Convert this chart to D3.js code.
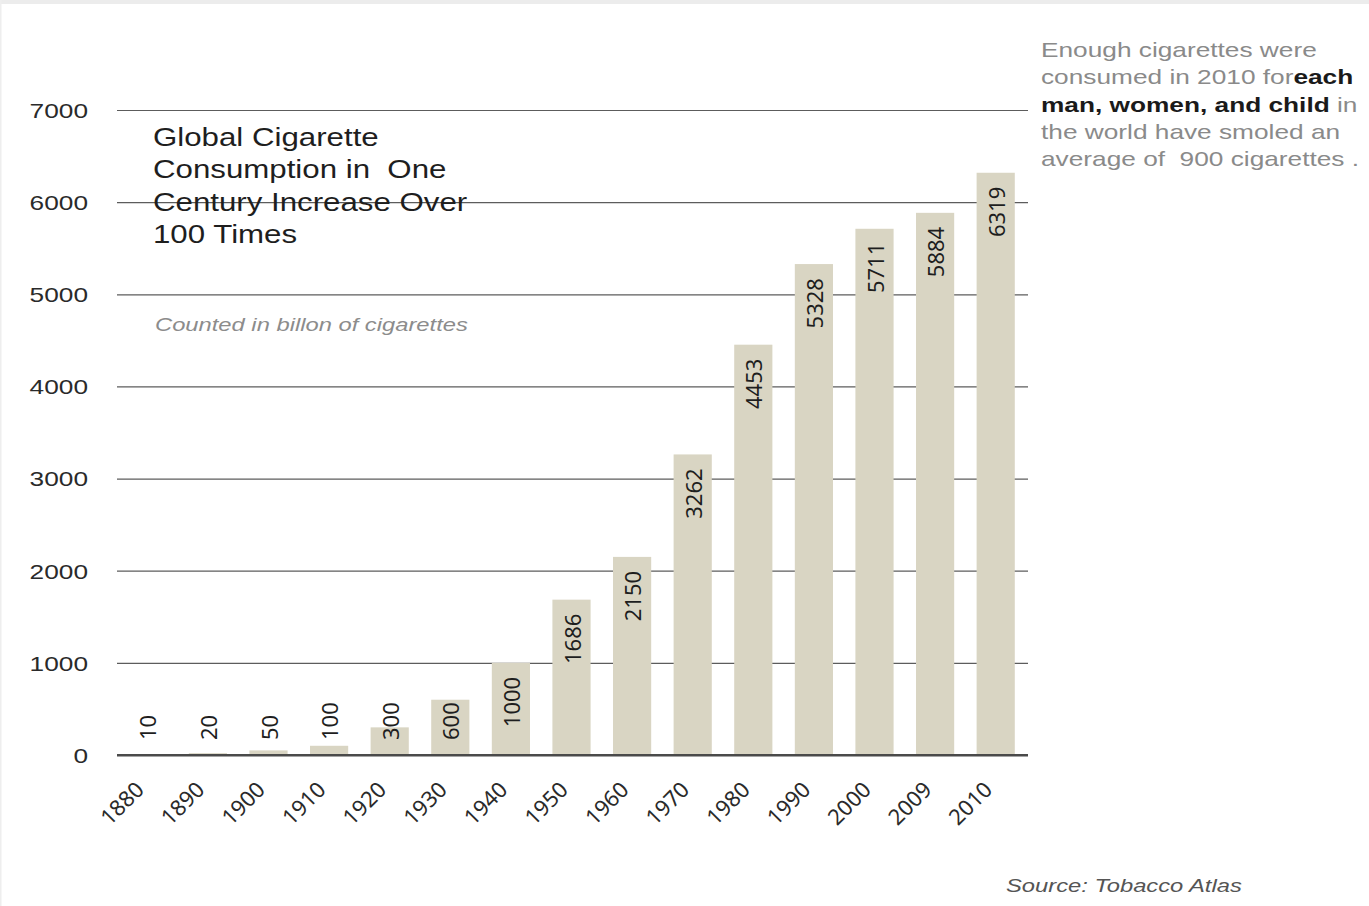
<!DOCTYPE html>
<html>
<head>
<meta charset="utf-8">
<script src="https://cdn.jsdelivr.net/npm/d3@7"></script>
<style>
  body { margin: 0; background: #fff; }
  svg { display: block; font-family: "Liberation Sans", Arial, sans-serif; }
  text { white-space: pre; }
</style>
</head>
<body>
<div id="chart"></div>
<script>
// data (billions of cigarettes)
const years = ["1880", "1890", "1900", "1910", "1920", "1930", "1940", "1950",
               "1960", "1970", "1980", "1990", "2000", "2009", "2010"];
const values = [10, 20, 50, 100, 300, 600, 1000, 1686, 2150, 3262, 4453, 5328, 5711, 5884, 6319];
const yTicks = [0, 1000, 2000, 3000, 4000, 5000, 6000, 7000];

const titleLines = ["Global Cigarette", "Consumption in  One", "Century Increase Over", "100 Times"];
const subtitle = "Counted in billon of cigarettes";
const source = "Source: Tobacco Atlas";

let width = 1369,
    height = 906,
    margin = ({ top: 110, right: 346, bottom: 151, left: 117 });

const stretch = 1.25; // reference text looks widened

const svg = d3.select("#chart")
  .append("svg")
  .attr("width", width)
  .attr("height", height);

// faint frame at top / left
svg.append("rect").attr("x", 0).attr("y", 0).attr("width", width).attr("height", 4).attr("fill", "#ececec");
svg.append("rect").attr("x", 0).attr("y", 0).attr("width", 1.5).attr("height", height).attr("fill", "#eeeeee");

let x = d3.scaleBand()
  .domain(years)
  .range([margin.left, width - margin.right + 3])
  .paddingInner(0.37)
  .paddingOuter(0.185);

let y = d3.scaleLinear()
  .domain([0, 7000])
  .range([height - margin.bottom, margin.top]);

// gridlines + y labels
const yAxis = svg.append("g")
  .attr("transform", `translate(${margin.left},0)`)
  .call(d3.axisLeft(y).tickValues(yTicks).tickFormat(d3.format("d"))
    .tickSize(-(width - margin.right + 5 - margin.left)).tickPadding(0));

yAxis.select(".domain").remove();
yAxis.selectAll(".tick line")
  .attr("stroke", d => d === 0 ? "#4a4a4a" : "#5c5c5c")
  .attr("stroke-width", d => d === 0 ? 2 : 1.2);
yAxis.selectAll(".tick text")
  .attr("x", -29 / stretch)
  .attr("dy", "0.35em")
  .attr("transform", `scale(${stretch},1)`)
  .attr("fill", "#2a2a2a")
  .attr("font-size", 21)
  .attr("font-family", "'Liberation Sans', Arial, sans-serif");

// title
const title = svg.append("g")
  .attr("transform", `translate(153,146) scale(${stretch},1)`);
title.selectAll("text")
  .data(titleLines)
  .join("text")
  .attr("x", 0)
  .attr("y", (d, i) => i * 32.5)
  .attr("font-size", 25)
  .attr("fill", "#1e1e1e")
  .text(d => d);

svg.append("text")
  .attr("transform", `translate(155,331) scale(${stretch},1)`)
  .attr("font-size", 19)
  .attr("font-style", "italic")
  .attr("fill", "#8c8c8c")
  .text(subtitle);

// bars
svg.append("g")
  .attr("fill", "#d9d5c3")
  .selectAll("rect")
  .data(values)
  .join("rect")
  .attr("x", (d, i) => x(years[i]))
  .attr("y", d => y(d))
  .attr("width", x.bandwidth())
  .attr("height", d => y(0) - y(d));

// re-draw the baseline over the bars
svg.append("line")
  .attr("x1", margin.left).attr("x2", width - margin.right + 5)
  .attr("y1", y(0)).attr("y2", y(0))
  .attr("stroke", "#4a4a4a").attr("stroke-width", 2);

// value labels, rotated, near the top of each bar
const labels = svg.append("g")
  .selectAll("text")
  .data(values)
  .join("text")
  .attr("font-family", "'Noto Sans', sans-serif")
  .attr("font-size", 22)
  .attr("fill", "#1e1e1e")
  .attr("text-anchor", "start")
  .text(d => d);

labels.each(function(d, i) {
  let len = this.getComputedTextLength();
  let startY = Math.min(y(0) - 15, y(d) + 14 + len);
  let cx = x(years[i]) + x.bandwidth() / 2;
  d3.select(this).attr("transform", `translate(${cx + 9},${startY}) rotate(-90)`);
});

// x labels
svg.append("g")
  .selectAll("text")
  .data(years)
  .join("text")
  .attr("font-family", "'Noto Sans', sans-serif")
  .attr("font-size", 22)
  .attr("fill", "#2a2a2a")
  .attr("text-anchor", "end")
  .attr("transform", d => `translate(${x(d) + x.bandwidth() / 2 - 2},${y(0) + 36}) rotate(-45)`)
  .text(d => d);

// right-side note
const note = svg.append("g")
  .attr("transform", `translate(1041,57) scale(${stretch},1)`)
  .attr("font-size", 21)
  .attr("fill", "#8a8a8a");

note.append("text").attr("y", 0).text("Enough cigarettes were");
let l2 = note.append("text").attr("y", 27.3);
l2.append("tspan").text("consumed in 2010 for");
l2.append("tspan").attr("font-weight", "bold").attr("fill", "#1a1a1a").text("each");
let l3 = note.append("text").attr("y", 54.6);
l3.append("tspan").attr("font-weight", "bold").attr("fill", "#1a1a1a").text("man, women, and child");
l3.append("tspan").text(" in");
note.append("text").attr("y", 81.9).text("the world have smoled an");
note.append("text").attr("y", 109.2).text("average of  900 cigarettes .");

// source
svg.append("text")
  .attr("transform", `translate(1006,892) scale(${stretch},1)`)
  .attr("font-size", 19)
  .attr("font-style", "italic")
  .attr("fill", "#555")
  .text(source);
</script>
</body>
</html>
